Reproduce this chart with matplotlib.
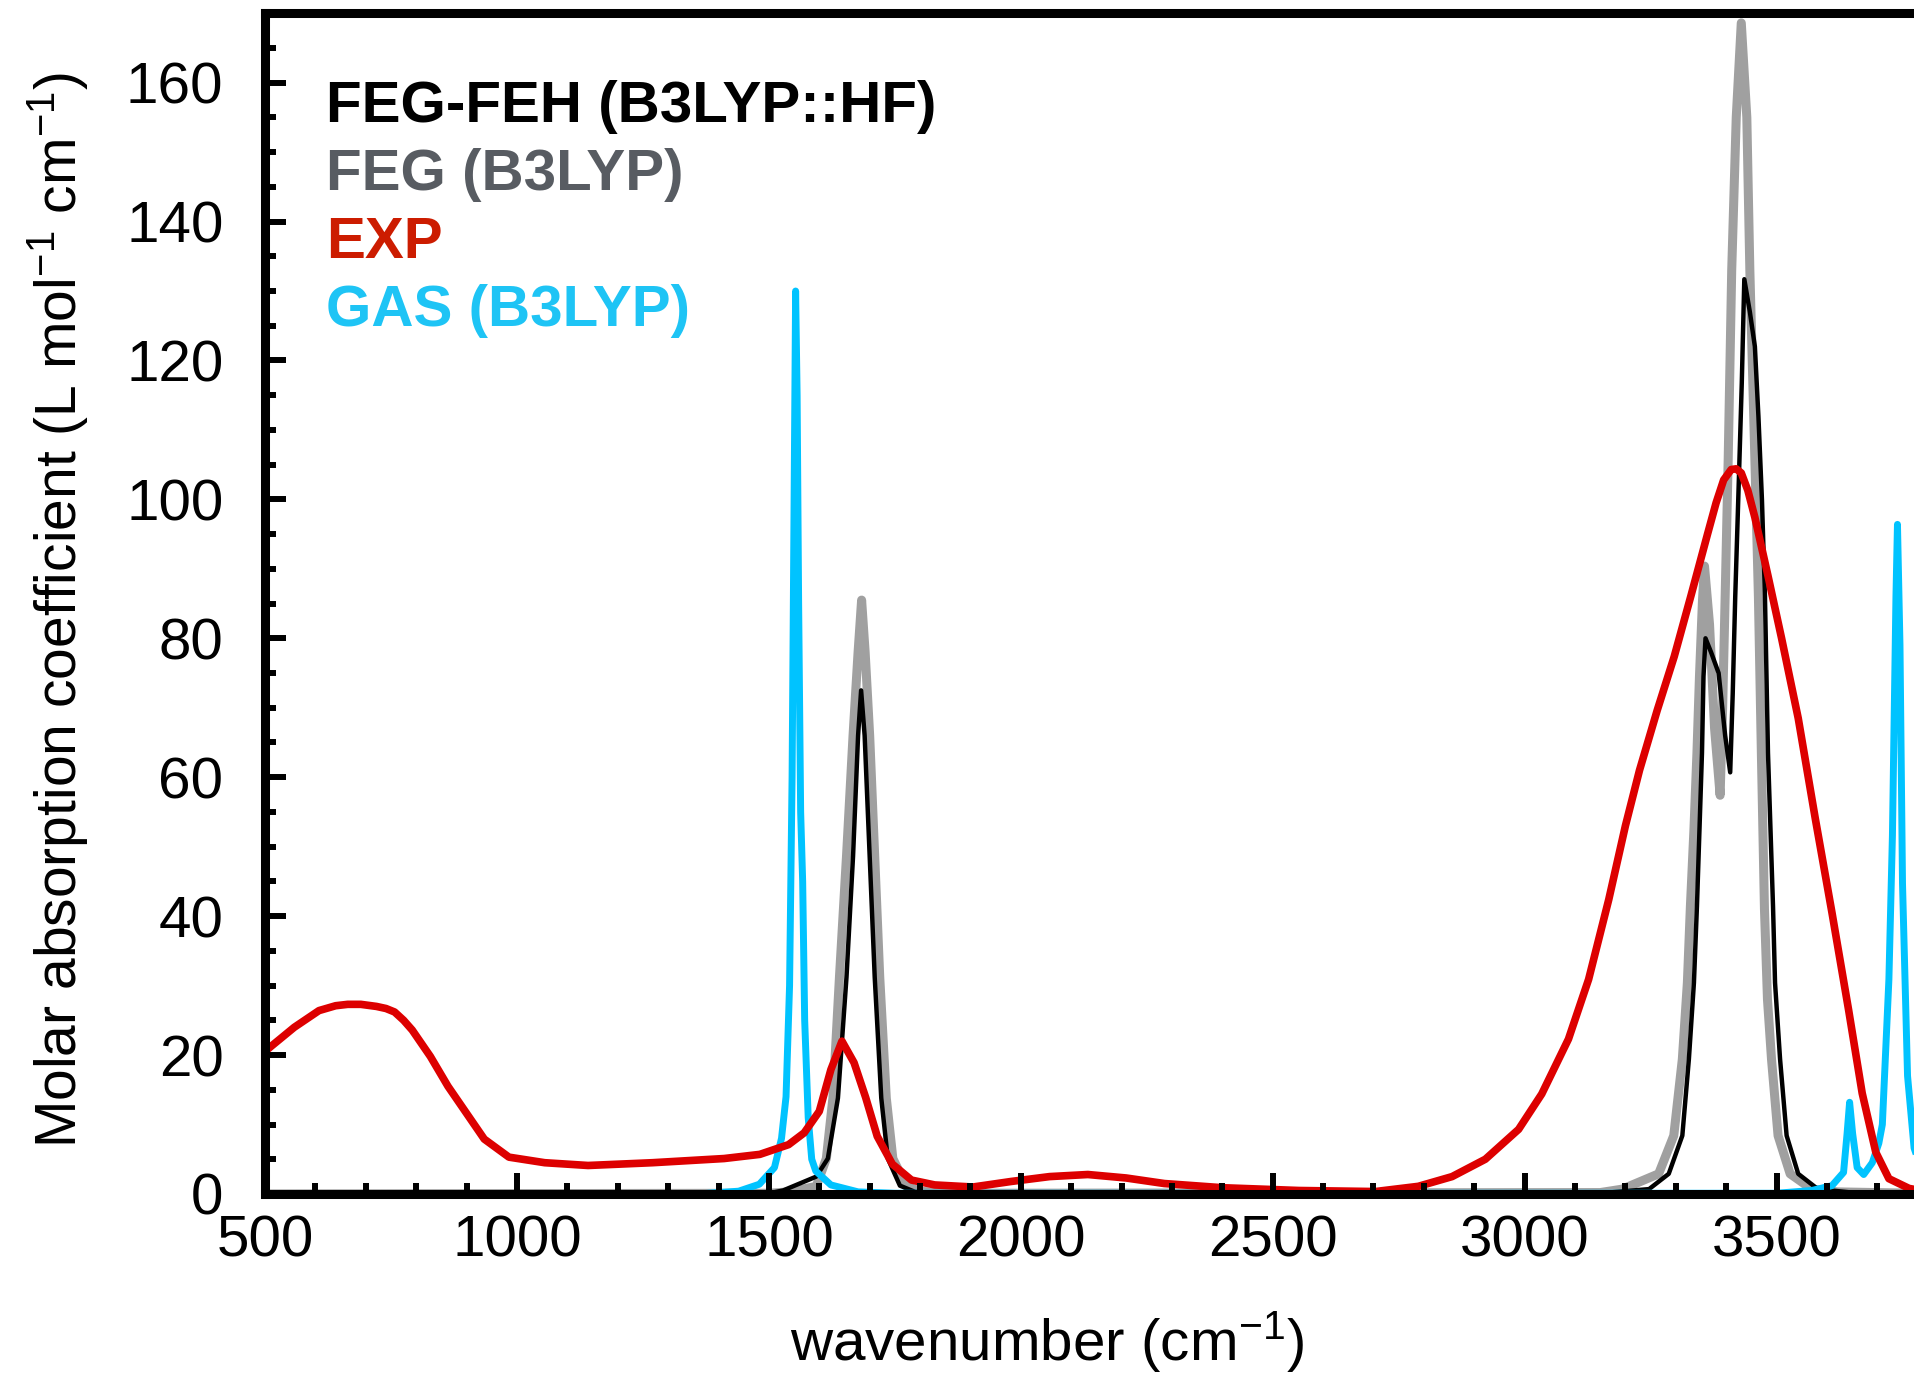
import matplotlib
matplotlib.use('Agg')
import matplotlib.pyplot as plt
from matplotlib.ticker import MultipleLocator

# EXP (red)
exp_wn = [480, 500, 511, 558, 607, 640, 664, 690, 721, 740, 757, 775, 792, 828, 863,
          899, 935, 984, 1055, 1141, 1269, 1411, 1482, 1539, 1570, 1600, 1623, 1645,
          1669, 1692, 1715, 1745, 1783, 1829, 1905, 1981, 2057, 2133, 2209, 2285,
          2400, 2552, 2704, 2789, 2856, 2922, 2988, 3034, 3087, 3127, 3167, 3200,
          3228, 3263, 3297, 3330, 3363, 3380, 3395, 3410, 3420, 3430, 3443, 3457,
          3483, 3510, 3543, 3577, 3610, 3643, 3670, 3697, 3723, 3763, 3800, 3850]
exp_abs = [19.5, 20.5, 21.2, 24.0, 26.4, 27.1, 27.3, 27.3, 27.0, 26.7, 26.2, 25.0, 23.6,
           19.8, 15.5, 11.7, 7.9, 5.3, 4.5, 4.1, 4.5, 5.1, 5.7, 7.1, 8.8, 11.9, 17.9,
           22.0, 18.9, 13.9, 8.3, 4.3, 2.0, 1.3, 1.0, 1.8, 2.5, 2.8, 2.3, 1.5,
           0.9, 0.5, 0.35, 1.1, 2.5, 5.0, 9.3, 14.4, 22.3, 30.9, 42.4, 53.0,
           61.0, 69.6, 77.4, 86.1, 95.0, 99.5, 102.8, 104.3, 104.4, 103.8, 101.3, 97.4,
           89.0, 80.0, 68.5, 54.0, 40.5, 26.5, 14.5, 6.0, 2.2, 0.8, 0.3, 0.1]

# FEG (B3LYP), grey
feg_wn = [500, 1500, 1541, 1594, 1614, 1627, 1640, 1654, 1667, 1677, 1684, 1691,
          1700, 1710, 1720, 1733, 1746, 1773, 1800, 1850, 3150, 3194, 3266, 3296,
          3313, 3323, 3329, 3336, 3342, 3347, 3353, 3357, 3367, 3377, 3388, 3393,
          3398, 3404, 3411, 3420, 3430, 3441, 3447, 3457, 3464, 3470, 3476, 3482,
          3490, 3503, 3527, 3570, 3620, 3700, 3850]
feg_abs = [0.0, 0.1, 0.3, 1.1, 5.1, 13.8, 31.2, 48.6, 66.0, 78.0, 85.5, 78.0,
           66.0, 48.6, 31.2, 13.8, 5.1, 1.1, 0.4, 0.1, 0.2, 0.7, 2.9, 8.4,
           19.4, 30.4, 41.4, 52.4, 63.5, 74.5, 85.5, 90.4, 82.0, 67.0, 57.4, 70.0,
           86.0, 105.7, 133.0, 155.0, 168.6, 155.0, 133.0, 105.7, 86.0, 63.0, 41.0, 28.0,
           19.4, 8.4, 2.9, 0.7, 0.3, 0.2, 0.0]

# FEG-FEH (B3LYP::HF), black
fegfeh_wn = [500, 1500, 1528, 1594, 1617, 1637, 1654, 1667, 1677, 1683, 1690, 1700,
             1710, 1723, 1736, 1760, 1790, 1850, 3150, 3247, 3286, 3313, 3326, 3336,
             3342, 3347, 3352, 3355, 3359, 3370, 3385, 3398, 3408, 3413, 3418, 3424,
             3431, 3436, 3447, 3457, 3464, 3471, 3477, 3483, 3493, 3497, 3507, 3520,
             3543, 3582, 3650, 3850]
fegfeh_abs = [0.0, 0.1, 0.5, 2.5, 5.1, 13.8, 31.2, 48.6, 66.0, 72.5, 66.0, 48.6,
              31.2, 13.8, 5.1, 1.2, 0.3, 0.1, 0.1, 0.7, 2.9, 8.4, 19.4, 30.4,
              41.4, 52.4, 63.5, 74.5, 80.0, 78.0, 75.0, 66.0, 60.7, 72.0, 86.0, 100.0,
              116.8, 131.7, 127.0, 122.0, 112.0, 100.0, 86.0, 63.5, 41.4, 30.4, 19.4, 8.4,
              2.9, 0.7, 0.2, 0.0]

# GAS (B3LYP), cyan
gas_wn = [1380, 1440, 1481, 1511, 1525, 1534, 1541, 1546, 1550, 1553, 1556, 1559,
          1563, 1567, 1571, 1578, 1585, 1593, 1623, 1677, 1750, 3500, 3570, 3610,
          3633, 3640, 3645, 3651, 3660, 3673, 3690, 3703, 3710, 3723, 3730, 3737,
          3740, 3745, 3750, 3760, 3773, 3790, 3820]
gas_abs = [0.1, 0.4, 1.4, 3.8, 8.0, 14.0, 30.0, 60.0, 100.0, 130.0, 115.0, 85.0,
           55.0, 45.0, 25.0, 11.0, 5.0, 3.3, 1.3, 0.3, 0.1, 0.1, 0.5, 1.2,
           3.1, 8.7, 13.2, 8.7, 3.8, 2.8, 4.5, 7.3, 10.0, 30.9, 51.6, 86.0,
           96.4, 79.0, 44.7, 17.0, 6.6, 3.0, 1.5]

x_ticks = [500, 1000, 1500, 2000, 2500, 3000, 3500]

legend_labels = ['FEG-FEH (B3LYP::HF)', 'FEG (B3LYP)', 'EXP', 'GAS (B3LYP)']
legend_colors = ['#000000', '#585c62', '#cc1c00', '#1ec4f5']

plt.rcParams['font.family'] = ['Liberation Sans', 'DejaVu Sans']
plt.rcParams['mathtext.default'] = 'regular'

fig = plt.figure(figsize=(19.14, 13.73), dpi=100)
# the plot runs past the right edge of the picture
ax = fig.add_axes([0.1385, 0.1304, 0.9213, 0.8600])

ax.plot(feg_wn, feg_abs, color='#a0a0a0', linewidth=6.5, zorder=1.1)
ax.plot(fegfeh_wn, fegfeh_abs, color='black', linewidth=3.2, zorder=1.2)
ax.plot(gas_wn, gas_abs, color='#00c3ff', linewidth=5.0, zorder=1.3)
ax.plot(exp_wn, exp_abs, color='#dd0000', linewidth=5.5, zorder=1.4)

ax.set_xlim(500, 4000)
ax.set_ylim(0, 170)
ax.set_xticks(x_ticks)
ax.xaxis.set_minor_locator(MultipleLocator(100))
ax.yaxis.set_major_locator(MultipleLocator(20))
ax.yaxis.set_minor_locator(MultipleLocator(5))
ax.tick_params(which='both', direction='in', width=4.3, labelsize=42,
               top=False, right=False)
ax.tick_params(which='major', length=15)
ax.tick_params(which='minor', length=8)
ax.tick_params(axis='x', pad=15)
ax.tick_params(axis='y', pad=30)
for spine in ax.spines.values():
    spine.set_linewidth(6.5)

fig.text(0.547, 0.0095, r'wavenumber (cm$^{-1}$)', fontsize=42,
         ha='center', va='baseline')
fig.text(0.030, 0.5557, r'Molar absorption coefficient (L mol$^{-1}$ cm$^{-1}$)',
         fontsize=41, rotation=90, ha='center', va='center')

for i, (label, color) in enumerate(zip(legend_labels, legend_colors)):
    fig.text(0.1703, 1 - (122 + 68 * i) / 1373, label, fontsize=42,
             fontweight='bold', color=color, ha='left', va='baseline')

plt.savefig('out.png', dpi=100)
